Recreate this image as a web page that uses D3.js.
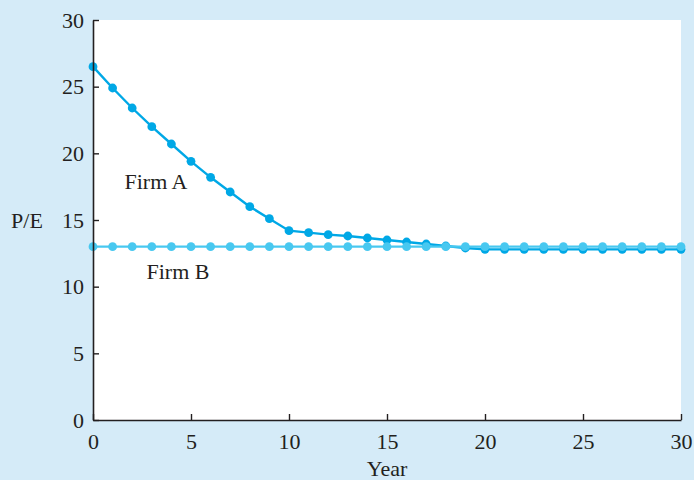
<!DOCTYPE html>
<html>
<head>
<meta charset="utf-8">
<script src="https://cdn.jsdelivr.net/npm/d3@7"></script>
<style>
html,body{margin:0;padding:0;background:#d5ebf8;}
svg{display:block;}
text{font-family:"Liberation Serif","DejaVu Serif",serif;fill:#231f20;}
</style>
</head>
<body>
<script>
const years = d3.range(0, 31);
const firmA = [26.5,24.9,23.4,22.0,20.7,19.4,18.2,17.1,16.0,15.1,14.2,14.05,13.9,13.8,13.65,13.5,13.35,13.2,13.05,12.9,12.8,12.8,12.8,12.8,12.8,12.8,12.8,12.8,12.8,12.8,12.8];
const firmB = [13,13,13,13,13,13,13,13,13,13,13,13,13,13,13,13,13,13,13,13,13,13,13,13,13,13,13,13,13,13,13];
const xTicks = [0,5,10,15,20,25,30];
const yTicks = [0,5,10,15,20,25,30];
const seriesNames = ["Firm A","Firm B"];
const colors = ["#00a8e6","#48c8f0"];

const W = 694, H = 480;
const m = {left:93, right:13, top:20, bottom:60};
const svg = d3.select("body").append("svg").attr("width",W).attr("height",H);

const x = d3.scaleLinear().domain([0,30]).range([m.left, W-m.right]);
const y = d3.scaleLinear().domain([0,30]).range([H-m.bottom, m.top]);

svg.append("rect").attr("x",x(0)).attr("y",y(30)).attr("width",x(30)-x(0)).attr("height",y(0)-y(30)).attr("fill","#fff");

const line = d3.line().x((d,i)=>x(years[i])).y(d=>y(d));
const data = [firmA, firmB];
data.forEach((s,k)=>{
  svg.append("path").datum(s).attr("d",line).attr("fill","none").attr("stroke",colors[k]).attr("stroke-width",2.4);
  svg.append("g").selectAll("circle").data(s).join("circle")
    .attr("cx",(d,i)=>x(years[i])).attr("cy",d=>y(d)).attr("r",4.4).attr("fill",colors[k]);
});

const xAxis = svg.append("g").attr("transform",`translate(0,${y(0)})`)
  .call(d3.axisBottom(x).tickValues(xTicks).tickSizeInner(-6).tickSizeOuter(0).tickPadding(13));
const yAxis = svg.append("g").attr("transform",`translate(${x(0)},0)`)
  .call(d3.axisLeft(y).tickValues(yTicks).tickSizeInner(-6).tickSizeOuter(0).tickPadding(9));
[xAxis,yAxis].forEach(g=>{
  g.select(".domain").attr("stroke","#231f20").attr("stroke-width",1.6);
  g.selectAll(".tick line").attr("stroke","#231f20").attr("stroke-width",1.4);
  g.selectAll(".tick text").attr("font-size",22).attr("font-family","Liberation Serif, serif").attr("fill","#231f20");
});

svg.append("text").attr("x",387).attr("y",476).attr("text-anchor","middle").attr("font-size",22).text("Year");
svg.append("text").attr("x",27).attr("y",228).attr("text-anchor","middle").attr("font-size",22).text("P/E");
svg.append("text").attr("x",156).attr("y",189).attr("text-anchor","middle").attr("font-size",22).text(seriesNames[0]);
svg.append("text").attr("x",178).attr("y",279).attr("text-anchor","middle").attr("font-size",22).text(seriesNames[1]);
</script>
</body>
</html>
